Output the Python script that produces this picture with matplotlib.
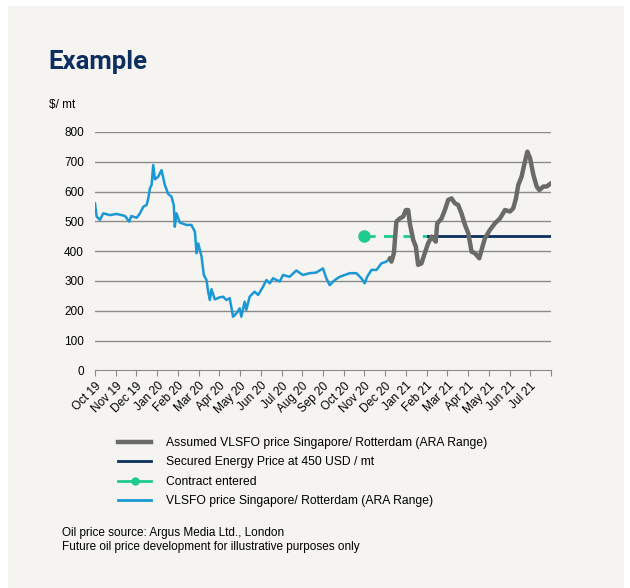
import matplotlib
matplotlib.use("Agg")
import matplotlib.pyplot as plt
from matplotlib.lines import Line2D
from matplotlib.patches import Rectangle

plt.rcParams['font.family'] = ['Liberation Sans', 'DejaVu Sans']

# month index: 0 = Oct 19 ... 22 = Aug 21
month_labels = ['Oct 19', 'Nov 19', 'Dec 19', 'Jan 20', 'Feb 20', 'Mar 20', 'Apr 20',
                'May 20', 'Jun 20', 'Jul 20', 'Aug 20', 'Sep 20', 'Oct 20', 'Nov 20',
                'Dec 20', 'Jan 21', 'Feb 21', 'Mar 21', 'Apr 21', 'May 21', 'Jun 21',
                'Jul 21', '']

# VLSFO price Singapore/ Rotterdam (actual)
blue_month = [0.00, 0.08, 0.24, 0.40, 0.72, 1.04, 1.45, 1.65, 1.75, 2.01, 2.17, 2.33,
              2.49, 2.57, 2.65, 2.73, 2.81, 2.89, 3.05, 3.21, 3.37, 3.53, 3.69, 3.80,
              3.85, 3.93, 4.09, 4.41, 4.65, 4.82, 4.90, 4.98, 5.14, 5.25, 5.38, 5.46,
              5.54, 5.62, 5.78, 6.02, 6.18, 6.34, 6.50, 6.66, 6.82, 6.98, 7.06, 7.22,
              7.30, 7.46, 7.70, 7.87, 8.11, 8.27, 8.43, 8.59, 8.91, 9.07, 9.39, 9.71,
              10.03, 10.35, 10.67, 11.00, 11.16, 11.32, 11.57, 11.81, 12.29, 12.61,
              12.85, 13.01, 13.13, 13.34, 13.58, 13.82, 14.06, 14.22]
blue_price = [560, 516, 505, 527, 521, 525, 518, 499, 518, 512, 527, 549,
              555, 577, 611, 622, 689, 641, 650, 672, 622, 592, 583, 555,
              482, 527, 496, 488, 488, 465, 393, 426, 382, 320, 303, 264,
              236, 272, 238, 245, 247, 236, 242, 180, 191, 208, 180, 230,
              203, 247, 264, 253, 281, 303, 292, 309, 298, 320, 314, 335,
              320, 326, 328, 342, 309, 286, 303, 314, 326, 326,
              309, 292, 314, 337, 337, 359, 365, 376]

# Assumed VLSFO price (future)
gray_month = [14.22, 14.30, 14.42, 14.54, 14.71, 14.87, 15.00, 15.11, 15.19, 15.35, 15.48,
              15.59, 15.75, 15.91, 16.07, 16.24, 16.44, 16.51, 16.72, 16.88, 17.04,
              17.20, 17.36, 17.52, 17.68, 17.85, 18.01, 18.17, 18.33, 18.54, 18.65,
              18.81, 19.05, 19.29, 19.54, 19.78, 20.02, 20.18, 20.31, 20.42, 20.58,
              20.74, 20.86, 20.99, 21.15, 21.31, 21.44, 21.63, 21.79, 22.00]
gray_price = [376, 365, 393, 499, 510, 516, 538, 538, 493, 438, 415,
              354, 359, 393, 426, 449, 432, 493, 510, 538, 572,
              577, 561, 555, 527, 488, 460, 398, 393, 376, 404,
              443, 471, 493, 510, 538, 533, 544, 577, 622, 650,
              700, 734, 712, 656, 617, 605, 617, 617, 628]

secured_price = 450
contract_month = 13.0
secured_start = 16.07
secured_end = 22.0

bg = '#f5f4f0'
fig = plt.figure(figsize=(6.3, 5.88), dpi=100)
fig.patch.set_facecolor('white')
fig.add_artist(Rectangle((8 / 630, 0), (624 - 8) / 630, 1 - 6 / 588,
                         transform=fig.transFigure, facecolor=bg, edgecolor='none', zorder=0))

ax = fig.add_axes([95 / 630, 217.7 / 588, 456 / 630, 238.3 / 588])
ax.set_facecolor(bg)

for v in range(100, 900, 100):
    ax.axhline(v, color='#8a8a88', lw=1.0, zorder=1)

ax.plot([contract_month, secured_start], [secured_price, secured_price], color='#1ecb8e',
        lw=2, dashes=(4, 3), zorder=3)
ax.plot([contract_month], [secured_price], 'o', color='#1ecb8e', ms=8, zorder=4)
ax.plot([secured_start, secured_end], [secured_price, secured_price], color='#0c2f5f',
        lw=2, zorder=3)
ax.plot(blue_month, blue_price, color='#1a98d5', lw=1.8, zorder=5)
ax.plot(gray_month, gray_price, color='#6a6a67', lw=3.2, zorder=6, solid_capstyle='round')

ax.set_xlim(0, 22)
ax.set_ylim(0, 800)
ax.set_xticks(range(23))
ax.set_xticklabels(month_labels, rotation=45, ha='right', rotation_mode='anchor', fontsize=8.5)
ax.set_yticks(range(0, 900, 100))
ax.tick_params(axis='y', length=0, pad=8, labelsize=8.5)
ax.tick_params(axis='x', length=4, color='#8a8a88', pad=3)
for s in ['left', 'right', 'top']:
    ax.spines[s].set_visible(False)
ax.spines['bottom'].set_color('#8a8a88')

fig.text(48 / 630, 1 - 62 / 588, 'Example', fontsize=18.5, fontweight='bold',
         color='#0c2f5f', va='center', family=['Roboto', 'DejaVu Sans'])
fig.text(49 / 630, 1 - 105 / 588, '$/ mt', fontsize=8.5, va='center')

handles = [
    Line2D([], [], color='#6a6a67', lw=3.2),
    Line2D([], [], color='#0c2f5f', lw=2),
    Line2D([], [], color='#1ecb8e', lw=2, marker='o', ms=5),
    Line2D([], [], color='#1a98d5', lw=2),
]
labels = ['Assumed VLSFO price Singapore/ Rotterdam (ARA Range)',
          'Secured Energy Price at 450 USD / mt',
          'Contract entered',
          'VLSFO price Singapore/ Rotterdam (ARA Range)']
fig.legend(handles, labels, loc='upper left', bbox_to_anchor=(118 / 630, 1 - 437 / 588),
           frameon=False, fontsize=8.7, handlelength=2.75, handletextpad=1.25,
           labelspacing=0.62, borderaxespad=0, borderpad=0)

fig.text(62 / 630, 1 - 533 / 588, 'Oil price source: Argus Media Ltd., London', fontsize=8.5, va='center')
fig.text(62 / 630, 1 - 547 / 588, 'Future oil price development for illustrative purposes only',
         fontsize=8.5, va='center')

fig.savefig('out.png', dpi=100, facecolor=fig.get_facecolor())
